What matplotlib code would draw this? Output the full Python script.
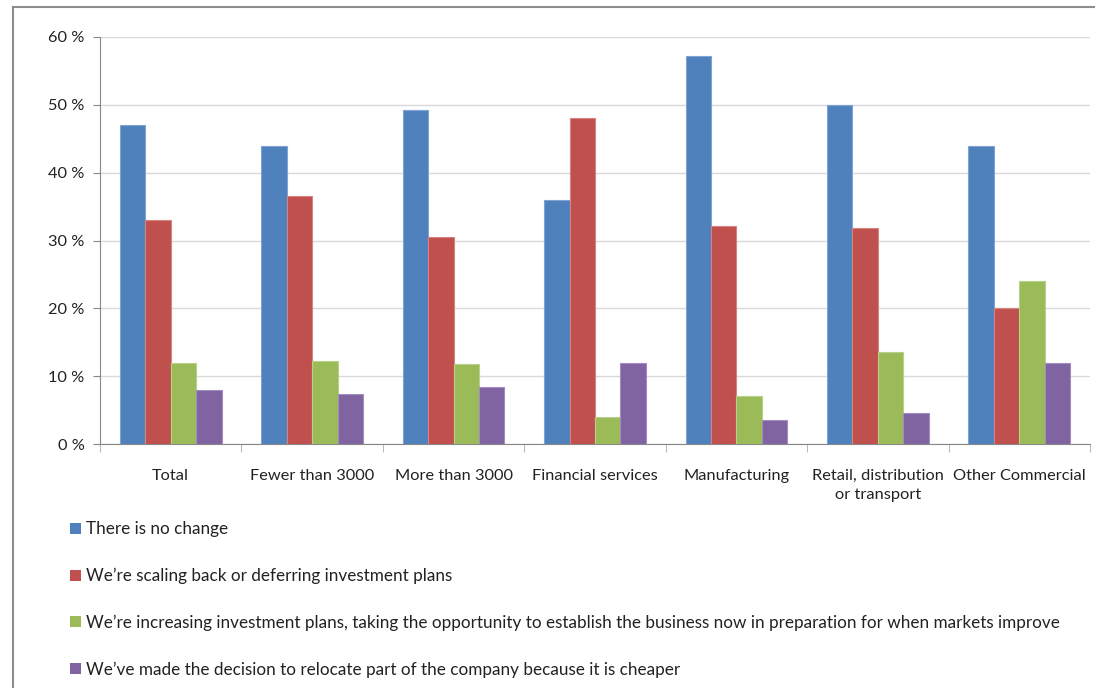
import matplotlib.pyplot as plt
import numpy as np
from matplotlib.lines import Line2D
from matplotlib.patches import Patch

plt.rcParams['font.family'] = ['Lato', 'DejaVu Sans']

categories = ['Total', 'Fewer than 3000', 'More than 3000', 'Financial services',
              'Manufacturing', 'Retail, distribution\nor transport', 'Other Commercial']
series_names = [
    'There is no change',
    'We\u2019re scaling back or deferring investment plans',
    'We\u2019re increasing investment plans, taking the opportunity to establish the business now in preparation for when markets improve',
    'We\u2019ve made the decision to relocate part of the company because it is cheaper',
]
no_change = [47, 43.9, 49.2, 36, 57.2, 50, 44]
scaling_back = [33, 36.6, 30.5, 48, 32.1, 31.8, 20]
increasing = [12, 12.2, 11.8, 4, 7.1, 13.6, 24]
relocate = [8, 7.3, 8.4, 12, 3.5, 4.5, 12]
colors = ['#4F81BD', '#C0504D', '#9BBB59', '#8064A2']
edges = ['#7FA3D3', '#D58482', '#B9D08A', '#A38CBF']

fig = plt.figure(figsize=(10.95, 6.88), dpi=100)
ax = fig.add_axes([100 / 1095, 1 - 444 / 688, 990 / 1095, 407 / 688])

x = np.arange(len(categories))
w = 0.18
for i, vals in enumerate([no_change, scaling_back, increasing, relocate]):
    ax.bar(x + (i - 1.5) * w, vals, w, color=colors[i], edgecolor=edges[i],
           linewidth=0.8, zorder=3)

ax.set_xlim(-0.5, len(categories) - 0.5)
ax.set_ylim(0, 60)
ax.set_yticks(range(0, 61, 10))
ax.set_yticklabels([f'{v} %' for v in range(0, 61, 10)], fontsize=11.8, color='#222222')
ax.yaxis.grid(True, color='#D9D9D9', linewidth=1, zorder=0)
ax.set_axisbelow(True)

ax.set_xticks(x)
ax.set_xticklabels(categories, fontsize=11.8, color='#222222', linespacing=1.5)
ax.tick_params(axis='x', length=0, pad=18)
ax.set_xticks(np.arange(-0.5, len(categories)), minor=True)
ax.tick_params(axis='x', which='minor', length=6, color='#BBBBBB', width=0.8)
ax.tick_params(axis='y', length=5, color='#888888', width=0.8, pad=6)

for s in ['top', 'right']:
    ax.spines[s].set_visible(False)
ax.spines['left'].set_color('#888888')
ax.spines['bottom'].set_color('#888888')

handles = [Patch(facecolor=c, edgecolor='none') for c in colors]
fig.legend(handles, series_names, loc='upper left',
           bbox_to_anchor=(55 / 1095, 1 - 506 / 688), frameon=False,
           fontsize=12.3, labelspacing=1.78, handlelength=0.6, handleheight=0.6,
           handletextpad=0.3, labelcolor='#222222')

# outer frame (left and top visible)
fig.add_artist(Line2D([13 / 1095, 13 / 1095], [0, 1 - 7 / 688], color='#8C8C8C',
                      linewidth=1.5, transform=fig.transFigure))
fig.add_artist(Line2D([13 / 1095, 1], [1 - 7 / 688, 1 - 7 / 688], color='#8C8C8C',
                      linewidth=1.5, transform=fig.transFigure))

fig.savefig('out.png', dpi=100)
